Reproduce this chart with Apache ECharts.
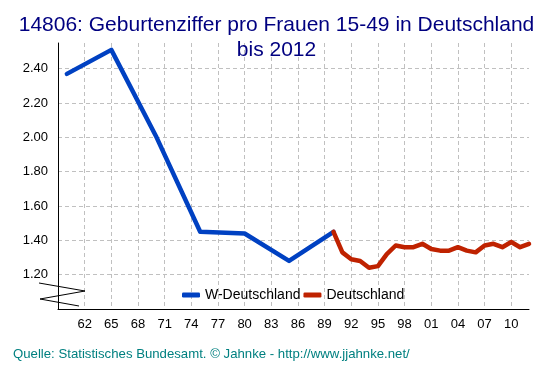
<!DOCTYPE html>
<html>
<head>
<meta charset="utf-8">
<script src="https://cdn.jsdelivr.net/npm/echarts@6/dist/echarts.min.js"></script>
<style>
  html, body { margin: 0; padding: 0; background: #fff; }
  #chart { width: 553px; height: 376px; }
</style>
</head>
<body>
<div id="chart"></div>
<script>
// W-Deutschland (5-year points)
var westYears = [1960, 1965, 1970, 1975, 1980, 1985, 1990]
var westValues = [2.37, 2.51, 2.01, 1.45, 1.44, 1.28, 1.45]

// Deutschland (annual)
var gerYears = [1990, 1991, 1992, 1993, 1994, 1995, 1996, 1997, 1998, 1999, 2000,
  2001, 2002, 2003, 2004, 2005, 2006, 2007, 2008, 2009, 2010, 2011, 2012]
var gerValues = [1.45, 1.33, 1.29, 1.28, 1.24, 1.25, 1.32, 1.37, 1.36, 1.36, 1.38,
  1.35, 1.34, 1.34, 1.36, 1.34, 1.33, 1.37, 1.38, 1.36, 1.39, 1.36, 1.38]

var seriesNames = ['W-Deutschland', 'Deutschland']

function pairs (xs, ys) {
  return xs.map(function (x, i) { return [x, ys[i]] })
}

var chart = echarts.init(document.getElementById('chart'), null, { renderer: 'canvas' })

var gridStyle = { color: '#c0c0c0', width: 1, type: [4, 3] }

chart.setOption({
  backgroundColor: '#ffffff',
  animation: false,
  title: {
    text: '14806: Geburtenziffer pro Frauen 15-49 in Deutschland\nbis 2012',
    left: 'center',
    top: 13,
    padding: 0,
    textStyle: {
      fontFamily: 'Arial, "Liberation Sans", sans-serif',
      fontSize: 21,
      fontWeight: 'normal',
      color: '#000080',
      lineHeight: 25
    }
  },
  legend: {
    data: seriesNames,
    left: 182,
    top: 288,
    padding: 0,
    icon: 'roundRect',
    itemWidth: 18,
    itemHeight: 5,
    itemGap: 3,
    textStyle: {
      fontFamily: 'Arial, "Liberation Sans", sans-serif',
      fontSize: 14,
      color: '#000'
    }
  },
  grid: {
    left: 58,
    top: 43,
    width: 471,
    height: 266,
    containLabel: false,
    outerBoundsMode: 'none'
  },
  xAxis: {
    type: 'value',
    min: 1959,
    max: 2012,
    interval: 3,
    axisLine: { show: true, lineStyle: { color: '#000', width: 1 } },
    axisTick: { show: false },
    axisLabel: {
      margin: 9,
      showMinLabel: false,
      showMaxLabel: false,
      fontFamily: 'Arial, "Liberation Sans", sans-serif',
      fontSize: 13,
      color: '#000',
      formatter: function (v) {
        if (v === 1959 || v === 2012) return ''
        return String(v).slice(2)
      }
    },
    splitLine: { show: true, showMinLine: false, showMaxLine: false, lineStyle: gridStyle }
  },
  yAxis: {
    type: 'value',
    min: 1.0,
    max: 2.55,
    interval: 0.2,
    axisLine: { show: true, lineStyle: { color: '#000', width: 1 } },
    axisTick: { show: false },
    axisLabel: {
      margin: 10,
      showMinLabel: false,
      showMaxLabel: false,
      fontFamily: 'Arial, "Liberation Sans", sans-serif',
      fontSize: 13,
      color: '#000',
      formatter: function (v) {
        if (v < 1.1 || v > 2.5) return ''
        return v.toFixed(2)
      }
    },
    splitLine: { show: true, showMinLine: false, showMaxLine: false, lineStyle: gridStyle }
  },
  graphic: [
    {
      // broken-axis zigzag
      type: 'polyline',
      shape: { points: [[39, 283], [85, 291], [40, 299], [79, 306]] },
      style: { stroke: '#000', lineWidth: 1, fill: null },
      z: 10
    },
    {
      type: 'text',
      left: 13,
      top: 348,
      style: {
        text: 'Quelle: Statistisches Bundesamt. © Jahnke - http://www.jjahnke.net/',
        fill: '#008080',
        font: '13.2px Arial, "Liberation Sans", sans-serif'
      }
    }
  ],
  series: [
    {
      name: seriesNames[0],
      type: 'line',
      data: pairs(westYears, westValues),
      symbol: 'none',
      color: '#0041c2',
      lineStyle: { width: 4.5, color: '#0041c2', cap: 'round', join: 'round' },
      z: 3
    },
    {
      name: seriesNames[1],
      type: 'line',
      data: pairs(gerYears, gerValues),
      symbol: 'none',
      color: '#bf2200',
      lineStyle: { width: 4.5, color: '#bf2200', cap: 'round', join: 'round' },
      z: 4
    }
  ]
})
</script>
</body>
</html>
